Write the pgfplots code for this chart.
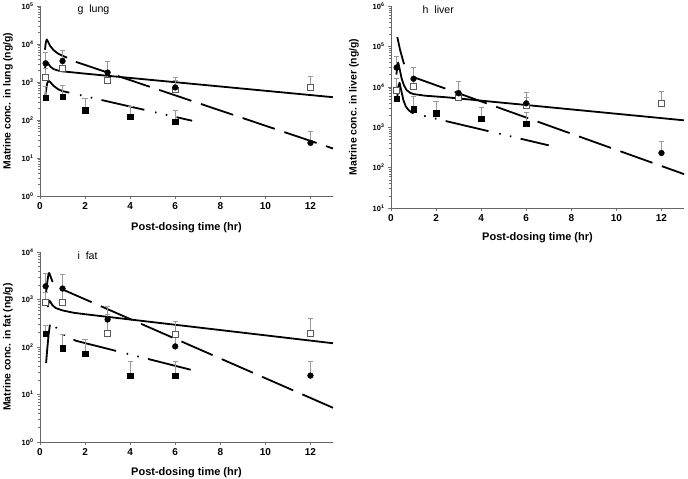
\documentclass[border=0pt]{standalone}
\usepackage{fontspec}
\setmainfont{Liberation Sans}
\usepackage{pgfplots}
\pgfplotsset{compat=1.18}

\tikzset{
  pkfitline/.style={black, line width=1.8pt, line join=round},
  pkldash/.style={pkfitline, dash pattern=on 34pt off 10pt},
  pkdddash/.style={pkfitline, dash pattern=on 44pt off 11pt on 1.5pt off 9.5pt on 1.5pt off 9.5pt, dash phase=44pt},
  pkttl/.style={anchor=west, font=\fontsize{10.6}{12}\selectfont},
}
\pgfplotsset{
  every axis/.append style={
    scale only axis, width=293pt,
    xmin=0, xmax=13, xtick={0,2,4,6,8,10,12},
    axis x line*=bottom, axis y line*=left,
    axis line style={black!60, line width=0.8pt},
    major tick length=3pt, minor tick length=2pt,
    tick align=outside, tick style={black!55, line width=0.5pt},
    xticklabel style={font=\bfseries\fontsize{10}{12}\selectfont},
    yticklabel style={font=\bfseries\fontsize{7.5}{9}\selectfont},
    xlabel style={font=\bfseries\fontsize{11}{13}\selectfont},
    ylabel style={font=\bfseries\fontsize{10.4}{12}\selectfont},
    clip=false,
  },
  pkobs/.style={only marks,
    error bars/y dir=plus, error bars/y explicit,
    error bars/error mark=|,
    error bars/error bar style={gray!80, line width=0.6pt},
    error bars/error mark options={gray!80, line width=0.6pt, mark size=2.6pt}},
  pkcirc/.style={pkobs, black, mark=*, mark size=2.9pt},
  pkfsq/.style={pkobs, black, mark=square*, mark size=2.7pt},
  pkosq/.style={pkobs, black, mark=square*, mark size=2.9pt,
    mark options={draw=gray!70!black, fill=white, line width=0.6pt}},
}

\begin{document}
\begin{tikzpicture}
\useasboundingbox (0,0) rectangle (688pt,479pt);

% g lung
\begin{axis}[at={(40pt,283pt)}, anchor=south west, height=190pt,
  ymode=log, ymin=1, ymax=100000,
  ytick={1,10,100,1000,10000,100000},
  yticklabels={10\textsuperscript{0},10\textsuperscript{1},10\textsuperscript{2},10\textsuperscript{3},10\textsuperscript{4},10\textsuperscript{5}},
  minor ytick={2,3,4,5,6,7,8,9,20,30,40,50,60,70,80,90,200,300,400,500,600,700,800,900,2000,3000,4000,5000,6000,7000,8000,9000,20000,30000,40000,50000,60000,70000,80000,90000},
  xlabel={Post-dosing time (hr)},
  ylabel={Matrine conc. in lung (ng/g)},
  xlabel style={at={(axis description cs:0.5,-0.165)}, anchor=center},
  ylabel style={at={(axis description cs:-0.109,0.5)}, anchor=center},
  /pgf/number format/assume math mode=true]
\addplot[pkfitline] coordinates {(0.22,7080) (0.26,11200) (0.30,13200) (0.35,11700) (0.45,8900) (0.60,6900) (0.80,5600) (1.00,4900) (1.20,4370)};
\addplot[pkldash] coordinates {(1.59,3390) (13,17.8)};
\addplot[pkfitline] coordinates {(0.22,2240) (0.26,3020) (0.30,3390) (0.35,3160) (0.45,2570) (0.60,2190) (0.80,2000) (1.00,1905) (2.00,1660) (13,398)};
\addplot[pkfitline] coordinates {(0.23,417) (0.27,631) (0.32,933) (0.38,1072) (0.45,1000) (0.60,794) (0.80,646) (1.00,575) (1.30,525)};
\addplot[pkdddash] coordinates {(1.30,525) (6.75,95.5)};
\addplot[pkosq] coordinates {(0.25,1320) +- (0,1000) (1,2300) +- (0,2000) (3,1120) +- (0,900) (6,620) +- (0,510) (12,720) +- (0,670)};
\addplot[pkcirc] coordinates {(0.25,3100) +- (0,2900) (1,3560) +- (0,3340) (3,1770) +- (0,1730) (6,720) +- (0,600) (12,25) +- (0,24)};
\addplot[pkfsq] coordinates {(0.25,390) +- (0,400) (1,410) +- (0,390) (2,182) +- (0,183) (4,122) +- (0,112) (6,91) +- (0,85)};
\node[pkttl] at (rel axis cs:0.116,0.98) {g\ \ lung};
\end{axis}

% h liver
\begin{axis}[at={(391pt,271pt)}, anchor=south west, height=202pt,
  ymode=log, ymin=10, ymax=1000000,
  ytick={10,100,1000,10000,100000,1000000},
  yticklabels={10\textsuperscript{1},10\textsuperscript{2},10\textsuperscript{3},10\textsuperscript{4},10\textsuperscript{5},10\textsuperscript{6}},
  minor ytick={20,30,40,50,60,70,80,90,200,300,400,500,600,700,800,900,2000,3000,4000,5000,6000,7000,8000,9000,20000,30000,40000,50000,60000,70000,80000,90000,200000,300000,400000,500000,600000,700000,800000,900000},
  xlabel={Post-dosing time (hr)},
  ylabel={Matrine conc. in liver (ng/g)},
  xlabel style={at={(axis description cs:0.5,-0.149)}, anchor=center},
  ylabel style={at={(axis description cs:-0.126,0.5)}, anchor=center},
  /pgf/number format/assume math mode=true]
\addplot[pkfitline] coordinates {(0.28,170000) (0.40,83000) (0.50,52500) (0.58,36300)};
\addplot[pkldash] coordinates {(0.99,17400) (13,69)};
\addplot[pkfitline] coordinates {(0.24,20000) (0.28,32000) (0.32,39800) (0.38,28200) (0.47,16200) (0.57,10960) (0.69,8320) (0.85,7080) (1.00,6610) (1.50,6030) (2.46,5500) (13,1480)};
\addplot[pkfitline] coordinates {(0.28,5620) (0.33,10470) (0.38,12590) (0.45,8320) (0.55,4680) (0.65,3310) (0.77,2690) (0.90,2340) (1.00,2190)};
\addplot[pkdddash] coordinates {(1.00,2190) (7.00,355)};
\addplot[pkosq] coordinates {(0.25,8300) +- (0,7700) (1,10500) +- (0,5000) (3,5400) +- (0,3000) (6,3400) +- (0,2000) (12,3900) +- (0,4000)};
\addplot[pkcirc] coordinates {(0.25,30000) +- (0,27000) (1,15800) +- (0,14200) (3,6900) +- (0,6600) (6,3900) +- (0,3300) (12,230) +- (0,220)};
\addplot[pkfsq] coordinates {(0.25,5000) +- (0,3000) (1,2800) +- (0,2900) (2,2230) +- (0,2270) (4,1600) +- (0,1550) (6,1200) +- (0,1150)};
\node[pkttl] at (rel axis cs:0.096,0.98) {h\ \ liver};
\end{axis}

% i fat
\begin{axis}[at={(40pt,37pt)}, anchor=south west, height=190pt,
  ymode=log, ymin=1, ymax=10000,
  ytick={1,10,100,1000,10000},
  yticklabels={10\textsuperscript{0},10\textsuperscript{1},10\textsuperscript{2},10\textsuperscript{3},10\textsuperscript{4}},
  minor ytick={2,3,4,5,6,7,8,9,20,30,40,50,60,70,80,90,200,300,400,500,600,700,800,900,2000,3000,4000,5000,6000,7000,8000,9000},
  xlabel={Post-dosing time (hr)},
  ylabel={Matrine conc. in fat (ng/g)},
  xlabel style={at={(axis description cs:0.5,-0.163)}, anchor=center},
  ylabel style={at={(axis description cs:-0.109,0.5)}, anchor=center},
  /pgf/number format/assume math mode=true]
\addplot[pkfitline] coordinates {(0.27,1410) (0.32,2240) (0.37,3310) (0.41,3630) (0.48,2950) (0.56,2340)};
\addplot[pkldash] coordinates {(0.91,1700) (13,5.25)};
\addplot[pkfitline] coordinates {(0.34,692) (0.40,955) (0.45,912) (0.55,759) (0.70,661) (1.00,589) (1.50,525) (2.00,490) (13,120)};
\addplot[pkfitline] coordinates {(0.27,45.7) (0.32,89) (0.38,178) (0.44,295)};
\addplot[pkdddash, dash phase=47pt] coordinates {(0.44,295) (0.55,316) (0.70,263) (0.85,214) (1.05,182) (1.25,162) (1.60,135) (6.70,33.1)};
\addplot[pkosq] coordinates {(0.25,890) +- (0,500) (1,890) +- (0,800) (3,196) +- (0,300) (6,182) +- (0,168) (12,196) +- (0,199)};
\addplot[pkcirc] coordinates {(0.25,1900) +- (0,1700) (1,1700) +- (0,1750) (3,380) +- (0,340) (6,103) +- (0,60) (12,25) +- (0,25)};
\addplot[pkfsq] coordinates {(0.25,188) +- (0,100) (1,94) +- (0,94) (2,72) +- (0,76) (4,25) +- (0,25) (6,25) +- (0,25)};
\node[pkttl] at (rel axis cs:0.116,0.98) {i\ \ fat};
\end{axis}
\end{tikzpicture}
\end{document}
